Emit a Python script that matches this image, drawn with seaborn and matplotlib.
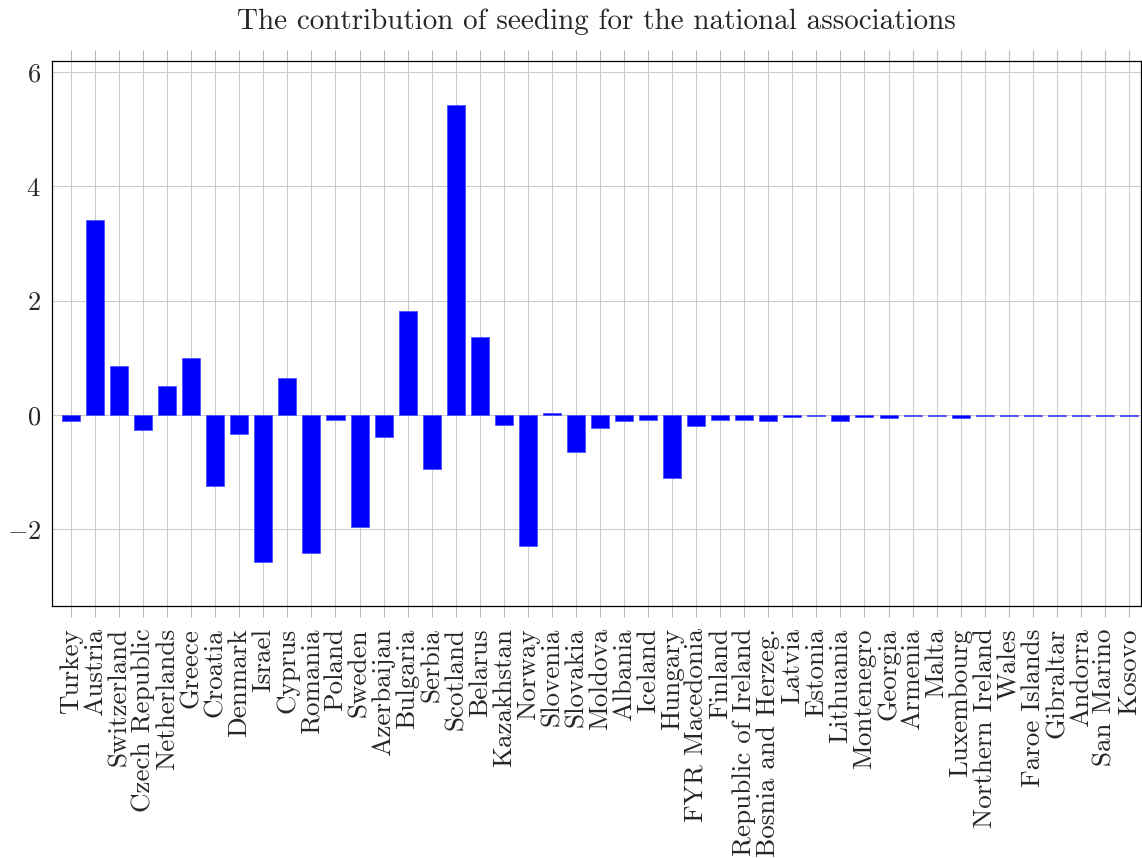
import matplotlib
matplotlib.use("Agg")
import matplotlib.pyplot as plt
import seaborn as sns
import pandas as pd

countries = ["Turkey", "Austria", "Switzerland", "Czech Republic", "Netherlands", "Greece",
             "Croatia", "Denmark", "Israel", "Cyprus", "Romania", "Poland", "Sweden",
             "Azerbaijan", "Bulgaria", "Serbia", "Scotland", "Belarus", "Kazakhstan",
             "Norway", "Slovenia", "Slovakia", "Moldova", "Albania", "Iceland", "Hungary",
             "FYR Macedonia", "Finland", "Republic of Ireland", "Bosnia and Herzeg.",
             "Latvia", "Estonia", "Lithuania", "Montenegro", "Georgia", "Armenia", "Malta",
             "Luxembourg", "Northern Ireland", "Wales", "Faroe Islands", "Gibraltar",
             "Andorra", "San Marino", "Kosovo"]
values = [-0.11, 3.41, 0.86, -0.27, 0.51, 1.0, -1.24, -0.34, -2.57, 0.65, -2.42, -0.09,
          -1.96, -0.39, 1.82, -0.95, 5.42, 1.36, -0.17, -2.29, 0.04, -0.64, -0.22, -0.10,
          -0.08, -1.10, -0.20, -0.08, -0.09, -0.11, -0.04, -0.02, -0.10, -0.03, -0.06,
          -0.02, -0.02, -0.06, -0.02, -0.02, -0.02, -0.01, -0.01, -0.01, -0.01]
yticks = [-2, 0, 2, 4, 6]
title = "The contribution of seeding for the national associations"

df = pd.DataFrame({"country": countries, "value": values})

sns.set_style("white")
plt.rcParams["font.family"] = ["cmr10", "DejaVu Serif"]
plt.rcParams["axes.formatter.use_mathtext"] = True
plt.rcParams["mathtext.fontset"] = "cm"

fig = plt.figure(figsize=(11.42, 8.58), dpi=100)
ax = fig.add_axes([52 / 1142, (858 - 606) / 858, (1141 - 52) / 1142, (606 - 61) / 858])

sns.barplot(data=df, x="country", y="value", color="#0000ff", saturation=1,
            width=0.75, ax=ax, edgecolor="#5050ff", linewidth=0.6, zorder=3)

ax.set_xlim(-0.79, len(countries) - 0.5)
ax.set_ylim(-3.34, 6.19)
ax.set_yticks(yticks)
ax.set_yticklabels([f"${v}$" if v >= 0 else f"$-{abs(v)}$" for v in yticks])
ax.grid(True, color="#cccccc", linewidth=0.8, zorder=0)
ax.set_axisbelow(True)
ax.set_xlabel("")
ax.set_ylabel("")
ax.tick_params(axis="x", rotation=90, labelsize=19.5, direction="out", length=8,
               color="#b8b8b8", top=True, bottom=True, pad=8)
ax.tick_params(axis="y", labelsize=19, direction="in", length=4, color="#909090", pad=8)
for lab in ax.get_xticklabels():
    lab.set_va("top")
for s in ax.spines.values():
    s.set_color("black")
    s.set_linewidth(0.9)
ax.set_title(title, fontsize=21, pad=23)

fig.savefig("out.png", dpi=100)
